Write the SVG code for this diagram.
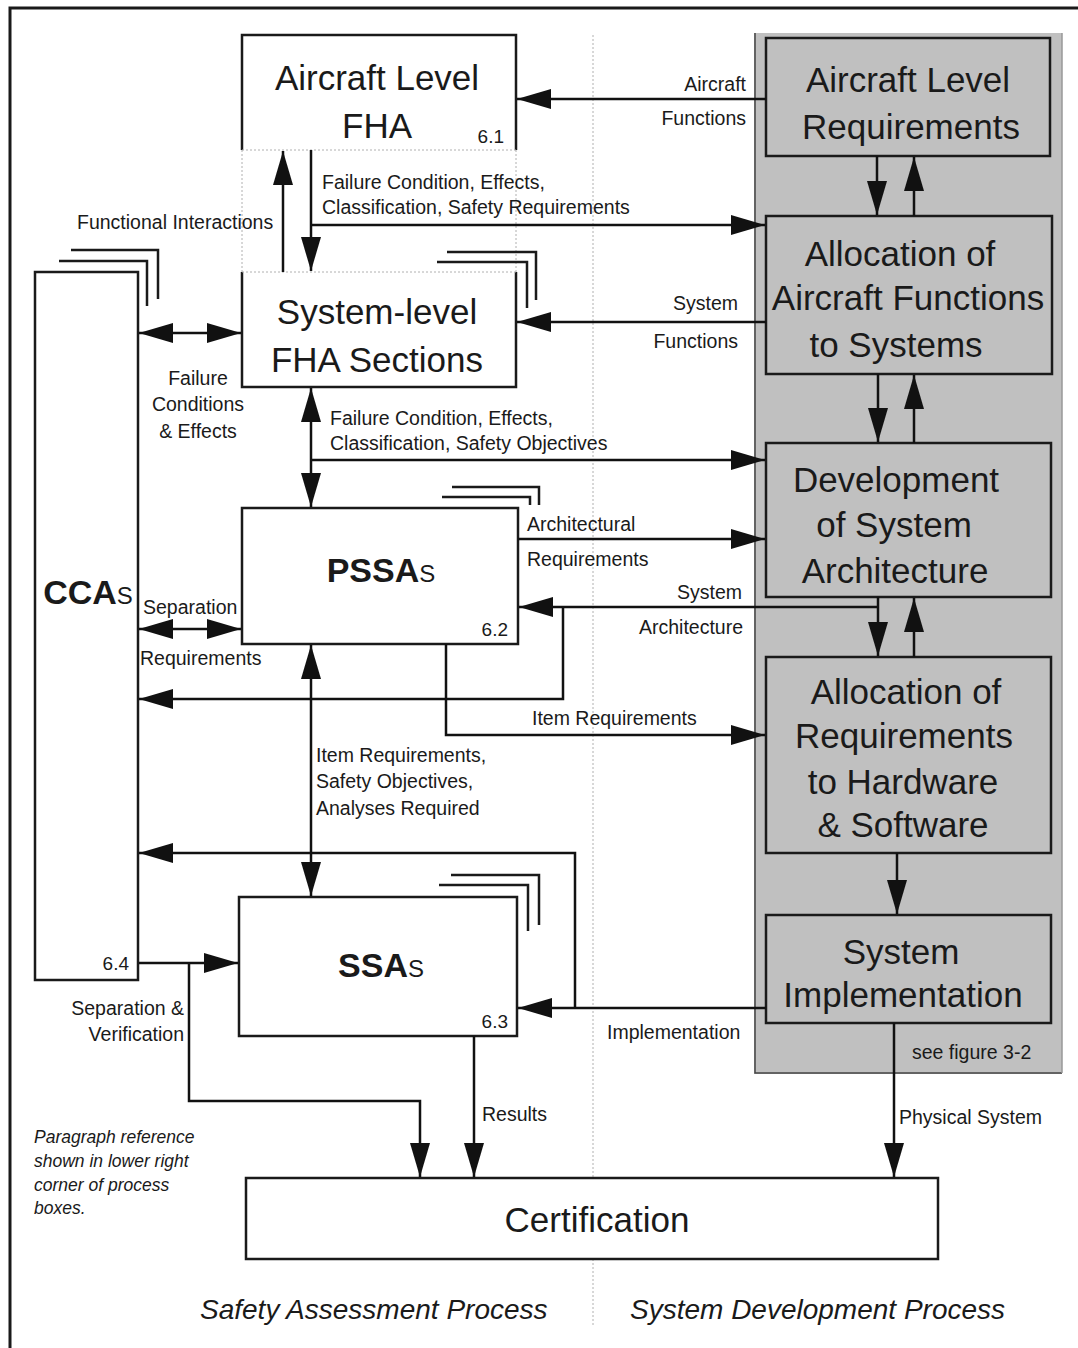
<svg xmlns="http://www.w3.org/2000/svg" width="1078" height="1348" viewBox="0 0 1078 1348">
<defs>
<style>
.frame{fill:none;stroke:#1a1a1a;stroke-width:3}
.box{fill:#fff;stroke:#1a1a1a;stroke-width:2.5}
.gbox{fill:#c0c0c0;stroke:#1a1a1a;stroke-width:2.5}
.side{fill:none;stroke:#1a1a1a;stroke-width:2.5}
.dot{fill:none;stroke:#b0b0b0;stroke-width:1;stroke-dasharray:2 2}
.stack{fill:none;stroke:#1a1a1a;stroke-width:2.5}
.c{fill:none;stroke:#111;stroke-width:2.5}
.ae{marker-end:url(#ah)}
.ab{marker-start:url(#ah);marker-end:url(#ah)}
text{font-family:"Liberation Sans",Arial,sans-serif;fill:#1a1a1a}
.t{font-size:35px;text-anchor:middle}
.tb{font-size:34px;font-weight:bold}
.ts{font-size:24px;font-weight:normal}
.n{font-size:19px;text-anchor:end}
.l{font-size:19.5px}
.r{text-anchor:end}
.m{text-anchor:middle}
.it{font-size:17.5px;font-style:italic}
.big{font-size:28px;font-style:italic}
</style>
<marker id="ah" viewBox="0 0 34 20" markerWidth="34" markerHeight="20" refX="34" refY="10" orient="auto-start-reverse" markerUnits="userSpaceOnUse">
<path d="M0,0 L34,10 L0,20 Z" fill="#111"/>
</marker>
</defs>
<rect width="1078" height="1348" fill="#fff"/>
<g id="frame">
<path class="frame" d="M10,1348 V8 H1078"/>
<rect x="754" y="33" width="308" height="1041" fill="#c0c0c0"/>
<path d="M755,33 V1073 H1062" fill="none" stroke="#444" stroke-width="1.5"/>
<path d="M1062,33 V1073" fill="none" stroke="#999" stroke-width="1.5"/>
<path class="dot" d="M593,35 V1325"/>
</g>
<g id="fha-aircraft">
<rect x="242" y="35" width="274" height="115" fill="#fff"/>
<path class="side" d="M242,150 V35 H516 V150"/>
<path class="dot" d="M242,150 H516 M242,150 V272 M516,150 V272"/>
<text class="t" x="377" y="90">Aircraft Level</text>
<text class="t" x="377" y="138">FHA</text>
<text class="n" x="504" y="143">6.1</text>
</g>
<g id="fha-system">
<path class="stack" d="M447,252 H536 V300 M437,262 H527 V308"/>
<rect x="242" y="272" width="274" height="115" fill="#fff"/>
<path class="side" d="M242,272 V387 H516 V272"/>
<path class="dot" d="M242,272 H516"/>
<text class="t" x="377" y="324">System-level</text>
<text class="t" x="377" y="372">FHA Sections</text>
</g>
<g id="pssa">
<path class="stack" d="M452,487 H539 V505 M442,497 H530 V505"/>
<rect class="box" x="242" y="508" width="276" height="136"/>
<text class="tb" x="381" y="582" text-anchor="middle">PSSA<tspan class="ts">S</tspan></text>
<text class="n" x="508" y="636">6.2</text>
</g>
<g id="ssa">
<path class="stack" d="M451,875 H539 V925 M439,885 H528 V931"/>
<rect class="box" x="239" y="897" width="278" height="139"/>
<text class="tb" x="381" y="977" text-anchor="middle">SSA<tspan class="ts">S</tspan></text>
<text class="n" x="508" y="1028">6.3</text>
</g>
<g id="cca">
<path class="stack" d="M71,250 H158 V299 M59,261 H147 V306"/>
<rect class="box" x="35" y="272" width="103" height="708"/>
<text class="tb" x="88" y="604" text-anchor="middle">CCA<tspan class="ts">S</tspan></text>
<text class="n" x="129" y="970">6.4</text>
</g>
<g id="certification">
<rect class="box" x="246" y="1178" width="692" height="81"/>
<text class="t" x="597" y="1232">Certification</text>
</g>
<g id="alr">
<rect class="gbox" x="766" y="38" width="284" height="118"/>
<text class="t" x="908" y="92">Aircraft Level</text>
<text class="t" x="911" y="139">Requirements</text>
</g>
<g id="aafs">
<rect class="gbox" x="766" y="216" width="286" height="158"/>
<text class="t" x="900" y="266">Allocation of</text>
<text class="t" x="908" y="310">Aircraft Functions</text>
<text class="t" x="896" y="357">to Systems</text>
</g>
<g id="dsa">
<rect class="gbox" x="766" y="443" width="285" height="154"/>
<text class="t" x="896" y="492">Development</text>
<text class="t" x="894" y="537">of System</text>
<text class="t" x="895" y="583">Architecture</text>
</g>
<g id="arhs">
<rect class="gbox" x="766" y="657" width="285" height="196"/>
<text class="t" x="906" y="704">Allocation of</text>
<text class="t" x="904" y="748">Requirements</text>
<text class="t" x="903" y="794">to Hardware</text>
<text class="t" x="903" y="837">&amp; Software</text>
</g>
<g id="si">
<rect class="gbox" x="766" y="915" width="285" height="108"/>
<text class="t" x="901" y="964">System</text>
<text class="t" x="903" y="1007">Implementation</text>
<text class="l" x="912" y="1059">see figure 3-2</text>
</g>
<g id="connectors">
<path class="c ae" d="M766,99 H517"/>
<path class="c ae" d="M311,150 V271"/>
<path class="c ae" d="M311,225 H765"/>
<path class="c ae" d="M283,272 V151"/>
<path class="c ae" d="M877,156 V215"/>
<path class="c ae" d="M914,216 V157"/>
<path class="c ae" d="M766,322 H517"/>
<path class="c ae" d="M878,374 V442"/>
<path class="c ae" d="M914,443 V375"/>
<path class="c ab" d="M311,388 V507"/>
<path class="c ae" d="M311,460 H765"/>
<path class="c ab" d="M139,333 H241"/>
<path class="c ae" d="M518,539 H765"/>
<path class="c ae" d="M878,607 H519"/>
<path class="c ae" d="M878,597 V656"/>
<path class="c ae" d="M914,657 V598"/>
<path class="c ae" d="M563,607 V699 H139"/>
<path class="c ab" d="M139,629 H241"/>
<path class="c ae" d="M446,644 V735 H765"/>
<path class="c ab" d="M311,645 V896"/>
<path class="c ae" d="M575,1008 V853 H139"/>
<path class="c ae" d="M766,1008 H518"/>
<path class="c ae" d="M897,853 V914"/>
<path class="c ae" d="M894,1023 V1177"/>
<path class="c ae" d="M139,963 H238"/>
<path class="c ae" d="M189,963 V1101 H420 V1177"/>
<path class="c ae" d="M474,1036 V1177"/>
</g>
<g id="labels">
<text class="l r" x="746" y="91">Aircraft</text>
<text class="l r" x="746" y="125">Functions</text>
<text class="l" x="322" y="189">Failure Condition, Effects,</text>
<text class="l" x="322" y="214">Classification, Safety Requirements</text>
<text class="l" x="77" y="229">Functional Interactions</text>
<text class="l r" x="738" y="310">System</text>
<text class="l r" x="738" y="348">Functions</text>
<text class="l m" x="198" y="385">Failure</text>
<text class="l m" x="198" y="411">Conditions</text>
<text class="l m" x="198" y="438">&amp; Effects</text>
<text class="l" x="330" y="425">Failure Condition, Effects,</text>
<text class="l" x="330" y="450">Classification, Safety Objectives</text>
<text class="l" x="527" y="531">Architectural</text>
<text class="l" x="527" y="566">Requirements</text>
<text class="l r" x="742" y="599">System</text>
<text class="l r" x="743" y="634">Architecture</text>
<text class="l" x="143" y="614">Separation</text>
<text class="l" x="140" y="665">Requirements</text>
<text class="l" x="532" y="725">Item Requirements</text>
<text class="l" x="316" y="762">Item Requirements,</text>
<text class="l" x="316" y="788">Safety Objectives,</text>
<text class="l" x="316" y="815">Analyses Required</text>
<text class="l r" x="184" y="1015">Separation &amp;</text>
<text class="l r" x="184" y="1041">Verification</text>
<text class="l" x="607" y="1039">Implementation</text>
<text class="l" x="482" y="1121">Results</text>
<text class="l" x="899" y="1124">Physical System</text>
<text class="it" x="34" y="1143">Paragraph reference</text>
<text class="it" x="34" y="1167">shown in lower right</text>
<text class="it" x="34" y="1191">corner of process</text>
<text class="it" x="34" y="1214">boxes.</text>
<text class="big" x="200" y="1319">Safety Assessment Process</text>
<text class="big" x="630" y="1319">System Development Process</text>
</g>
</svg>
